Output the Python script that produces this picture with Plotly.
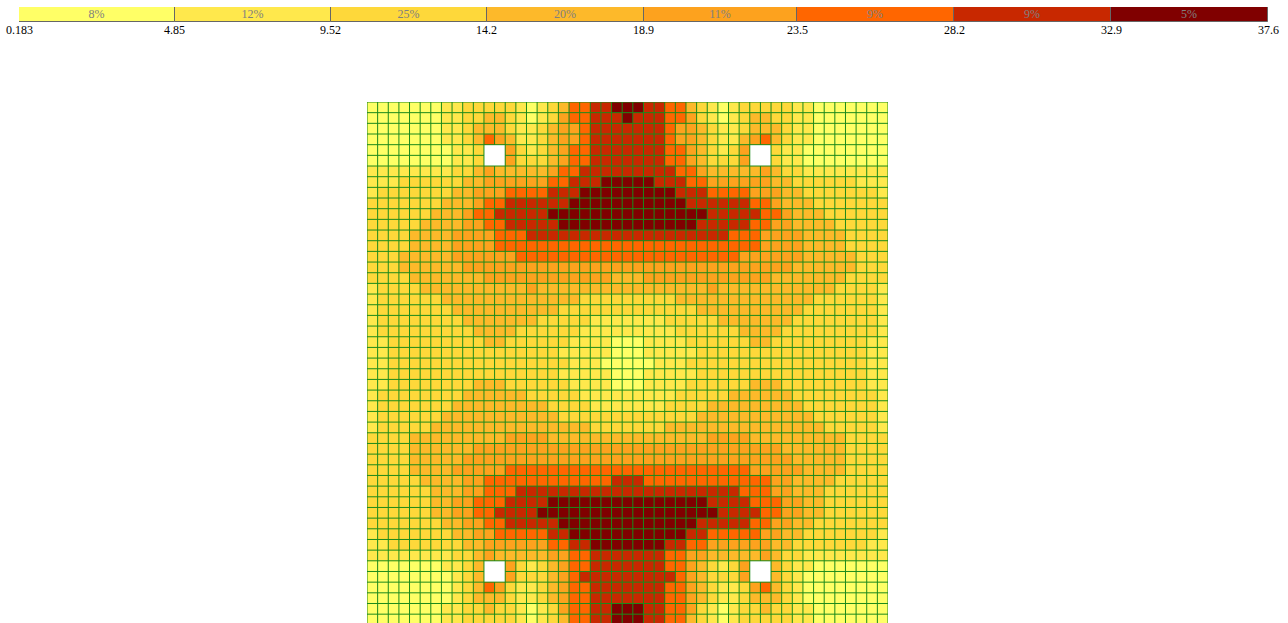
import plotly.graph_objects as go

# ---- data ----
bin_edges = [0.183, 4.85, 9.52, 14.2, 18.9, 23.5, 28.2, 32.9, 37.6]
edge_labels = ["0.183", "4.85", "9.52", "14.2", "18.9", "23.5", "28.2", "32.9", "37.6"]
bin_colors = ["#FFFF66", "#FFE84C", "#FED83A", "#FDB92A", "#FDA21E", "#FF6600", "#C82800", "#800000"]
bin_share_labels = ["8%", "12%", "25%", "20%", "11%", "9%", "9%", "5%"]

# estimated value of a cell for each colour class (1..8); N = no data
level_values = {"1": 2.5, "2": 7.2, "3": 11.9, "4": 16.5, "5": 21.2,
                "6": 25.9, "7": 30.5, "8": 35.2}

grid_rows = [
    "1111111223333321234667788877664321233333221111111",
    "1111111223344321235667778777665321234433221111111",
    "1111111223444322345567777777655432234443221111111",
    "1111111223465422345567777777655432245643221111111",
    "11111111223NN53234566777777766543235NN32211111111",
    "11111111223NN53334566777777766543335NN32211111111",
    "2222222233454444456677777777766544444543322222222",
    "2223333334455555566777888887776655555544333333222",
    "2333333344555666677788888888877766665554433333332",
    "3333333444566777777888888888887777776654443333333",
    "3333334445667777788888888888888877777665444333333",
    "3333344445566777778888888888888777776655444433333",
    "3333444455556667777777777777777777666555544443333",
    "3333444455556666666666666666666666666555544443333",
    "3334444455555566666666666666666666655555544444333",
    "3334444445555555555555555555555555555555444444333",
    "3333444444455555555555544455555555555544444443333",
    "2333344444444445444444444444444454444444444433332",
    "2333333444444444444433333333344444444444443333332",
    "2333333344444444443333333333333444444444433333332",
    "2333333334444444333332222222333334444444333333332",
    "2333333333444433333322222222233333344443333333332",
    "2233333333344333333222211122223333334433333333322",
    "2233333333333333332222211122222333333333333333322",
    "2233333333333333333222111112223333333333333333322",
    "2233333333333333332222211122222333333333333333322",
    "2233333333444333333222211122223333334443333333322",
    "2333333334444443333322222222233333444444333333332",
    "2333333344444444433332222222333344444444433333332",
    "2333333444444444443333333333333444444444443333332",
    "2333334444444444444443333333444444444444444333332",
    "3333444444444555544444444444444455554444444443333",
    "3333444444555555555555555555555555555554444443333",
    "3333444445555555555555555555555555555555444443333",
    "3333444455555666666666666666666666665555544443333",
    "3333344445566666666666677766666666666655444433333",
    "3333334445566677777777777777777777766655444333333",
    "3333334455666777788888888888888877776665544333333",
    "3333334455667777888888888888888887777665544333333",
    "3333333445566777778888888888888777776655443333333",
    "2333333344556666677888888888887766666554433333332",
    "2233333334455555566778888888776655555544333333322",
    "2222222233454444455667777777665544444543322222222",
    "11111112234NN53234566777777766543235NN43221111111",
    "11111111234NN53334567777777776543335NN43211111111",
    "1111111123465322345667777777665432235643211111111",
    "1111111123444322345667777777665432234443211111111",
    "1111111223343321235667788877665321233433221111111",
    "1111111223333321234667788877664321233333221111111",
]

W, H = 1288, 623
n_rows = len(grid_rows)
n_cols = len(grid_rows[0])

z = [[level_values.get(ch) for ch in row] for row in grid_rows]
valid = [[v is not None for v in row] for row in z]

# stepped colour scale
colorscale = []
nb = len(bin_colors)
for i, c in enumerate(bin_colors):
    colorscale.append([i / nb, c])
    colorscale.append([(i + 1) / nb, c])

fig = go.Figure()

fig.add_trace(go.Heatmap(
    z=z, x=list(range(n_cols)), y=list(range(n_rows)),
    colorscale=colorscale, zmin=bin_edges[0], zmax=bin_edges[-1],
    showscale=False, hoverongaps=False, xaxis="x", yaxis="y",
))

# cell borders (skip borders inside missing blocks)
gx, gy = [], []
for k in range(n_cols + 1):
    run = None
    for r in range(n_rows + 1):
        on = r < n_rows and ((k - 1 >= 0 and valid[r][k - 1]) or (k < n_cols and valid[r][k]))
        if on and run is None:
            run = r
        if not on and run is not None:
            gx += [k - 0.5, k - 0.5, None]
            gy += [run - 0.5, r - 0.5, None]
            run = None
for k in range(n_rows + 1):
    run = None
    for c in range(n_cols + 1):
        on = c < n_cols and ((k - 1 >= 0 and valid[k - 1][c]) or (k < n_rows and valid[k][c]))
        if on and run is None:
            run = c
        if not on and run is not None:
            gx += [run - 0.5, c - 0.5, None]
            gy += [k - 0.5, k - 0.5, None]
            run = None
fig.add_trace(go.Scatter(x=gx, y=gy, mode="lines",
                         line=dict(color="#1b8a1b", width=1),
                         hoverinfo="skip", showlegend=False,
                         xaxis="x", yaxis="y"))

# legend bar
widths = [bin_edges[i + 1] - bin_edges[i] for i in range(nb)]
fig.add_trace(go.Bar(
    orientation="h", y=[0] * nb, x=widths, base=bin_edges[:-1], width=1,
    marker=dict(color=bin_colors, line=dict(color="#666666", width=1)),
    text=bin_share_labels, textposition="inside", insidetextanchor="middle",
    textangle=0, constraintext="none",
    textfont=dict(family="Liberation Serif", size=12, color="#808080"),
    hoverinfo="skip", showlegend=False, xaxis="x2", yaxis="y2",
))

annotations = []
for v, lab in zip(bin_edges, edge_labels):
    annotations.append(dict(
        x=v, xref="x2", y=1 - 29.5 / H, yref="paper", text=lab,
        showarrow=False, xanchor="center", yanchor="middle",
        font=dict(family="Liberation Serif", size=12, color="#000000"),
    ))

row_px = 10.67
y_units = (H - 102) / row_px

fig.update_layout(
    width=W, height=H, autosize=False,
    margin=dict(l=0, r=0, t=0, b=0),
    paper_bgcolor="white", plot_bgcolor="white",
    showlegend=False, annotations=annotations,
    xaxis=dict(domain=[367 / W, 888 / W], range=[-0.5, n_cols - 0.5],
               showgrid=False, zeroline=False, showticklabels=False,
               ticks="", showline=False, anchor="y"),
    yaxis=dict(domain=[0, 1 - 102 / H], range=[y_units - 0.5, -0.5],
               showgrid=False, zeroline=False, showticklabels=False,
               ticks="", showline=False, anchor="x"),
    xaxis2=dict(domain=[19 / W, 1268 / W], range=[bin_edges[0], bin_edges[-1]],
                showgrid=False, zeroline=False, showticklabels=False,
                ticks="", showline=False, anchor="y2"),
    yaxis2=dict(domain=[1 - 22 / H, 1 - 7 / H], range=[-0.5, 0.5],
                showgrid=False, zeroline=False, showticklabels=False,
                ticks="", showline=False, anchor="x2"),
    bargap=0,
)

fig.write_html("out.html", config={"displayModeBar": False},
               post_script="document.body.style.margin='0';document.body.style.overflow='hidden';")
